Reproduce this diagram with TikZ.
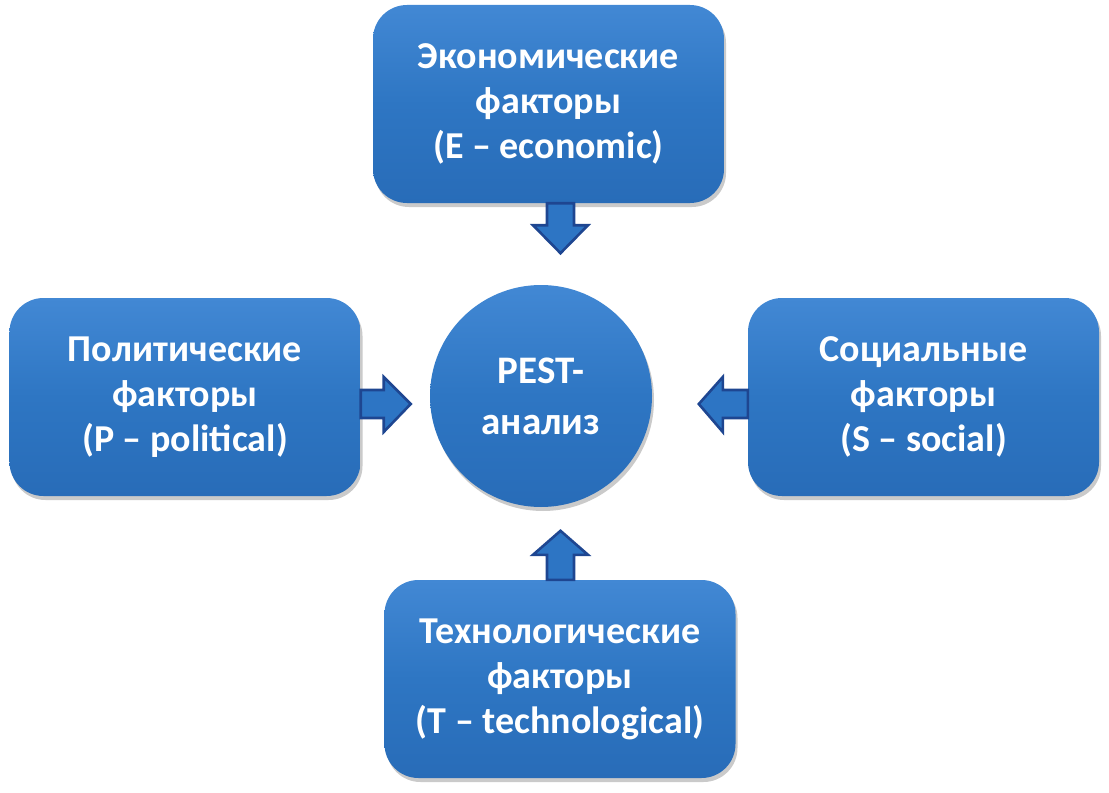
\documentclass[tikz,border=0pt]{standalone}
\usepackage{fontspec}
\setmainfont{Carlito}
\usetikzlibrary{calc,shadows,shadings}
\definecolor{bTop}{RGB}{66,136,212}
\definecolor{bMid}{RGB}{46,118,195}
\definecolor{bBot}{RGB}{40,108,184}
\definecolor{aFill}{RGB}{45,117,196}
\definecolor{aLine}{RGB}{30,70,145}
\tikzset{
  factor/.style={rounded corners=34bp, minimum width=351bp, minimum height=198bp,
    top color=bTop, bottom color=bBot, middle color=bMid,
    drop shadow={shadow xshift=2bp, shadow yshift=-4bp, opacity=0.35, fill=black!60},
    text=white, align=center, font=\bfseries\fontsize{38bp}{45bp}\selectfont, inner sep=0pt},
  hub/.style={circle, minimum size=222bp, inner sep=0pt,
    top color=bTop, bottom color=bBot, middle color=bMid,
    drop shadow={shadow xshift=2bp, shadow yshift=-4bp, opacity=0.35, fill=black!60},
    text=white, align=center, font=\bfseries\fontsize{39bp}{51bp}\selectfont},
  fatarrow/.style={fill=aFill, draw=aLine, line width=2.6bp, line join=miter}
}
\begin{document}
\begin{tikzpicture}[x=1bp,y=-1bp]
\useasboundingbox (0,0) rectangle (1109,793);
\node[hub] (c) at (541,396) {PEST-\\анализ};
\node[factor] (e) at (548.5,104) {\vspace*{10bp}Экономические\\факторы\\ (E – economic)};
\node[factor] (p) at (185,397) {\vspace*{10bp}Политические\\факторы\\(P – political)};
\node[factor] (s) at (923.5,397) {\vspace*{10bp}Социальные\\факторы\\(S – social)};
\node[factor] (t) at (560,679) {\vspace*{10bp}Технологические\\факторы\\ (T – technological)};
% down arrow from E
\draw[fatarrow] ($(e.south)+(-1.5,0)$) -- ++(0,22) -- ++(-14,0) -- ++(27.5,28) -- ++(27.5,-28) -- ++(-14,0) -- ++(0,-22) -- cycle;
% up arrow from T
\draw[fatarrow] ($(t.north)+(-13,0)$) -- ++(0,-25) -- ++(-14,0) -- ++(27.5,-24) -- ++(27.5,24) -- ++(-14,0) -- ++(0,25) -- cycle;
% right arrow from P
\draw[fatarrow] ($(p.east)+(0,-7)$) -- ++(23,0) -- ++(0,-13) -- ++(27,27) -- ++(-27,28) -- ++(0,-14) -- ++(-23,0) -- cycle;
% left arrow from S
\draw[fatarrow] ($(s.west)+(0,-7)$) -- ++(-25,0) -- ++(0,-13) -- ++(-24,27) -- ++(24,28) -- ++(0,-14) -- ++(25,0) -- cycle;
\end{tikzpicture}
\end{document}
